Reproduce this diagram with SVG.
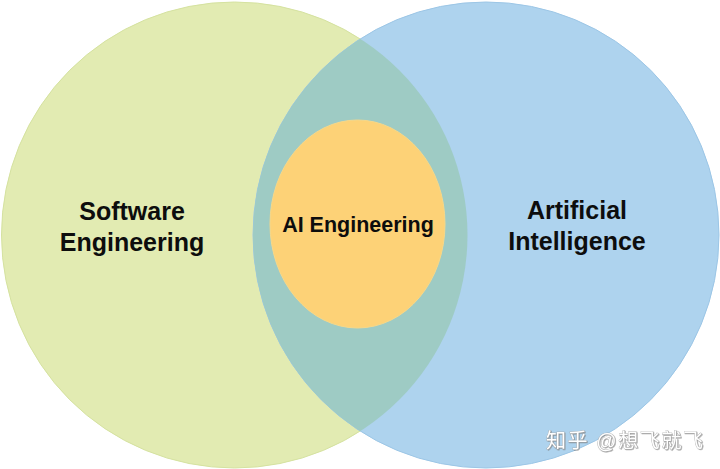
<svg xmlns="http://www.w3.org/2000/svg" width="720" height="469" viewBox="0 0 720 469">
  <style>
    .lbl { font-family: "Liberation Sans", Arial, sans-serif; font-weight: bold; fill: #0d0d0d; text-anchor: middle; }
    .wm { font-family: "Liberation Sans", "Noto Sans CJK SC", sans-serif; fill: #ffffff; stroke: #a0a0a0; stroke-width: 0.6; paint-order: stroke; letter-spacing: 1.6px; }
  </style>
  <defs>
    <clipPath id="leftClip">
      <circle cx="234.5" cy="235" r="233"/>
    </clipPath>
    <filter id="sh" x="-10%" y="-30%" width="120%" height="160%">
      <feDropShadow dx="0.8" dy="0.8" stdDeviation="0.6" flood-color="#777" flood-opacity="0.7"/>
    </filter>
  </defs>
  <rect width="720" height="469" fill="#ffffff"/>
  <g id="software-engineering">
    <circle cx="234.5" cy="235" r="233" fill="#e2ebb2" stroke="#d5e2a0" stroke-width="1"/>
    <text class="lbl" x="132" y="220" font-size="25">Software</text>
    <text class="lbl" x="132" y="251" font-size="25">Engineering</text>
  </g>
  <g id="artificial-intelligence">
    <circle cx="486" cy="235" r="233" fill="#aed3ee" stroke="#9cc6e6" stroke-width="1"/>
    <circle cx="486" cy="235" r="233" fill="#9ecbc4" clip-path="url(#leftClip)"/>
    <text class="lbl" x="577" y="219" font-size="25">Artificial</text>
    <text class="lbl" x="577" y="250" font-size="25">Intelligence</text>
  </g>
  <g id="ai-engineering">
    <ellipse cx="357.5" cy="224" rx="87.5" ry="104" fill="#fdd277" stroke="#f6d88a" stroke-width="1"/>
    <text class="lbl" x="358" y="232" font-size="21.5">AI Engineering</text>
  </g>
  <g id="connectors"></g>
  <g id="watermark" filter="url(#sh)">
    <text class="wm" x="546" y="448" font-size="20">知乎 @想飞就飞</text>
  </g>
</svg>
